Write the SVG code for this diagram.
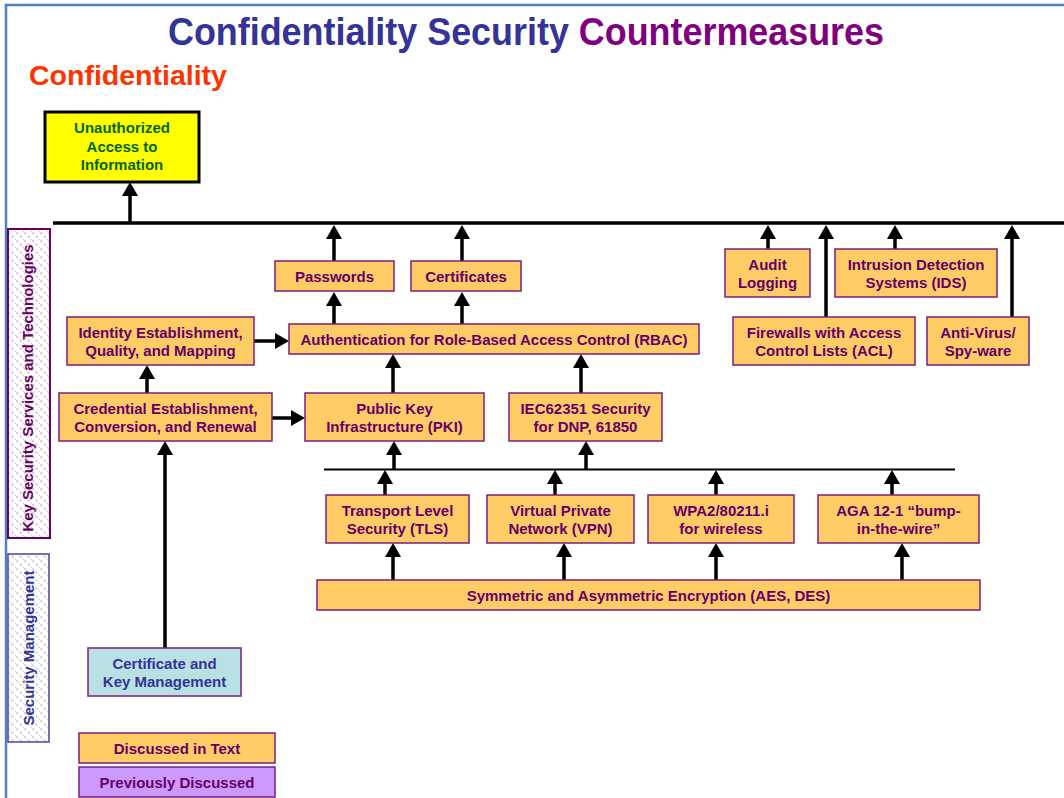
<svg xmlns="http://www.w3.org/2000/svg" width="1064" height="798" viewBox="0 0 1064 798">
  <style>
    text { font-family: "Liberation Sans", Arial, sans-serif; font-weight: bold; }
    .box { fill: #FFCC66; stroke: #7A1F7A; stroke-width: 1.5; }
    .lbl { font-size: 15px; fill: #660066; text-anchor: middle; }
    .conn { stroke: #000; stroke-width: 3.5; fill: none; marker-end: url(#ah); }
    .bus { stroke: #000; fill: none; }
  </style>
  <defs>
    <marker id="ah" viewBox="0 0 14 16" refX="10" refY="8" markerWidth="14" markerHeight="16" markerUnits="userSpaceOnUse" orient="auto">
      <path d="M0,0 L14,8 L0,16 Z" fill="#000"/>
    </marker>
    <pattern id="hatchPurple" width="8" height="8" patternUnits="userSpaceOnUse">
      <rect width="8" height="8" fill="#FFFFFF"/>
      <path d="M0,0 L8,8" stroke="#D9C7D9" stroke-width="1.6" stroke-dasharray="3 2"/>
    </pattern>
    <pattern id="hatchGrey" width="8" height="8" patternUnits="userSpaceOnUse">
      <rect width="8" height="8" fill="#FFFFFF"/>
      <path d="M0,0 L8,8" stroke="#D4D4D8" stroke-width="1.6" stroke-dasharray="3 2"/>
    </pattern>
  </defs>

  <rect width="1064" height="798" fill="#FFFFFF"/>
  <!-- page frame -->
  <path d="M6,798 L6,5 L1064,5" stroke="#4F81BD" stroke-width="2.5" fill="none"/>

  <!-- headings -->
  <text x="168" y="45" font-size="38" textLength="716" lengthAdjust="spacingAndGlyphs"><tspan fill="#333399">Confidentiality Security </tspan><tspan fill="#800080">Countermeasures</tspan></text>
  <text x="29" y="85" font-size="28.5" fill="#FF3300">Confidentiality</text>

  <!-- side bands -->
  <g id="band-key-services">
    <rect x="8" y="229" width="42" height="309" fill="url(#hatchPurple)" stroke="#660066" stroke-width="2"/>
    <text transform="translate(33,388) rotate(-90)" font-size="15" fill="#660066" text-anchor="middle">Key Security Services and Technologies</text>
  </g>
  <g id="band-security-mgmt">
    <rect x="8" y="554" width="41" height="188" fill="url(#hatchGrey)" stroke="#4444AA" stroke-width="1.5"/>
    <text transform="translate(34,648) rotate(-90)" font-size="15" fill="#333399" text-anchor="middle">Security Management</text>
  </g>

  <!-- connectors -->
  <g id="connectors">
    <line class="bus" x1="53" y1="223" x2="1064" y2="223" stroke-width="3.5"/>
    <line class="bus" x1="324" y1="469.5" x2="955" y2="469.5" stroke-width="2.2"/>

    <line class="conn" x1="130" y1="223" x2="130" y2="186"/>
    <line class="conn" x1="334" y1="261" x2="334" y2="229"/>
    <line class="conn" x1="462" y1="261" x2="462" y2="229"/>
    <line class="conn" x1="768" y1="249" x2="768" y2="229"/>
    <line class="conn" x1="826" y1="317" x2="826" y2="229"/>
    <line class="conn" x1="895" y1="249" x2="895" y2="229"/>
    <line class="conn" x1="1012" y1="317" x2="1012" y2="229"/>

    <line class="conn" x1="334" y1="324" x2="334" y2="296"/>
    <line class="conn" x1="462" y1="324" x2="462" y2="296"/>

    <line class="conn" x1="254" y1="341" x2="285" y2="341"/>
    <line class="conn" x1="147" y1="393" x2="147" y2="369"/>
    <line class="conn" x1="272" y1="418" x2="301" y2="418"/>

    <line class="conn" x1="393" y1="393" x2="393" y2="358"/>
    <line class="conn" x1="581" y1="393" x2="581" y2="358"/>

    <line class="conn" x1="394" y1="469" x2="394" y2="445"/>
    <line class="conn" x1="586" y1="469" x2="586" y2="445"/>

    <line class="conn" x1="385" y1="495" x2="385" y2="474"/>
    <line class="conn" x1="555" y1="495" x2="555" y2="474"/>
    <line class="conn" x1="716" y1="495" x2="716" y2="474"/>
    <line class="conn" x1="892" y1="495" x2="892" y2="474"/>

    <line class="conn" x1="393" y1="580" x2="393" y2="547"/>
    <line class="conn" x1="564" y1="580" x2="564" y2="547"/>
    <line class="conn" x1="716" y1="580" x2="716" y2="547"/>
    <line class="conn" x1="902" y1="580" x2="902" y2="547"/>

    <line class="conn" x1="165" y1="648" x2="165" y2="445"/>
  </g>

  <!-- nodes -->
  <g id="unauthorized-access">
    <rect x="45" y="112" width="154" height="70" fill="#FFFF00" stroke="#000" stroke-width="3"/>
    <text x="122" y="133" font-size="15" fill="#006600" text-anchor="middle">Unauthorized</text>
    <text x="122" y="151.5" font-size="15" fill="#006600" text-anchor="middle">Access to</text>
    <text x="122" y="169.5" font-size="15" fill="#006600" text-anchor="middle">Information</text>
  </g>

  <g id="passwords">
    <rect class="box" x="275" y="261" width="119" height="30"/>
    <text class="lbl" x="334.5" y="282">Passwords</text>
  </g>
  <g id="certificates">
    <rect class="box" x="411" y="261" width="110" height="30"/>
    <text class="lbl" x="466" y="282">Certificates</text>
  </g>
  <g id="audit-logging">
    <rect class="box" x="725" y="249" width="85" height="48"/>
    <text class="lbl" x="767.5" y="270">Audit</text>
    <text class="lbl" x="767.5" y="288">Logging</text>
  </g>
  <g id="ids">
    <rect class="box" x="835" y="249" width="162" height="48"/>
    <text class="lbl" x="916" y="270">Intrusion Detection</text>
    <text class="lbl" x="916" y="288">Systems (IDS)</text>
  </g>
  <g id="identity">
    <rect class="box" x="67" y="317" width="187" height="48"/>
    <text class="lbl" x="160.5" y="338">Identity Establishment,</text>
    <text class="lbl" x="160.5" y="356">Quality, and Mapping</text>
  </g>
  <g id="rbac">
    <rect class="box" x="289" y="324" width="410" height="30"/>
    <text class="lbl" x="494" y="345">Authentication for Role-Based Access Control (RBAC)</text>
  </g>
  <g id="firewalls">
    <rect class="box" x="733" y="317" width="182" height="48"/>
    <text class="lbl" x="824" y="338">Firewalls with Access</text>
    <text class="lbl" x="824" y="356">Control Lists (ACL)</text>
  </g>
  <g id="anti-virus">
    <rect class="box" x="927" y="317" width="102" height="48"/>
    <text class="lbl" x="978" y="338">Anti-Virus/</text>
    <text class="lbl" x="978" y="356">Spy-ware</text>
  </g>
  <g id="credential">
    <rect class="box" x="59" y="393" width="213" height="48"/>
    <text class="lbl" x="165.5" y="414">Credential Establishment,</text>
    <text class="lbl" x="165.5" y="432">Conversion, and Renewal</text>
  </g>
  <g id="pki">
    <rect class="box" x="305" y="393" width="179" height="48"/>
    <text class="lbl" x="394.5" y="414">Public Key</text>
    <text class="lbl" x="394.5" y="432">Infrastructure (PKI)</text>
  </g>
  <g id="iec62351">
    <rect class="box" x="509" y="393" width="153" height="48"/>
    <text class="lbl" x="585.5" y="414">IEC62351 Security</text>
    <text class="lbl" x="585.5" y="432">for DNP, 61850</text>
  </g>
  <g id="tls">
    <rect class="box" x="326" y="495" width="143" height="48"/>
    <text class="lbl" x="397.5" y="516">Transport Level</text>
    <text class="lbl" x="397.5" y="534">Security (TLS)</text>
  </g>
  <g id="vpn">
    <rect class="box" x="487" y="495" width="147" height="48"/>
    <text class="lbl" x="560.5" y="516">Virtual Private</text>
    <text class="lbl" x="560.5" y="534">Network (VPN)</text>
  </g>
  <g id="wpa2">
    <rect class="box" x="648" y="495" width="146" height="48"/>
    <text class="lbl" x="721" y="516">WPA2/80211.i</text>
    <text class="lbl" x="721" y="534">for wireless</text>
  </g>
  <g id="aga-12-1">
    <rect class="box" x="818" y="495" width="161" height="48"/>
    <text class="lbl" x="898.5" y="516">AGA 12-1 “bump-</text>
    <text class="lbl" x="898.5" y="534">in-the-wire”</text>
  </g>
  <g id="encryption">
    <rect class="box" x="317" y="580" width="663" height="30"/>
    <text class="lbl" x="648.5" y="601">Symmetric and Asymmetric Encryption (AES, DES)</text>
  </g>
  <g id="key-management">
    <rect x="88" y="648" width="153" height="48" fill="#B9E1E3" stroke="#7A1F7A" stroke-width="1.5"/>
    <text x="164.5" y="669" font-size="15" fill="#333399" text-anchor="middle">Certificate and</text>
    <text x="164.5" y="687" font-size="15" fill="#333399" text-anchor="middle">Key Management</text>
  </g>

  <!-- legend -->
  <g id="legend-discussed">
    <rect class="box" x="79" y="733" width="196" height="30"/>
    <text class="lbl" x="177" y="754">Discussed in Text</text>
  </g>
  <g id="legend-previous">
    <rect x="79" y="767" width="196" height="30" fill="#CC99FF" stroke="#7A1F7A" stroke-width="1.5"/>
    <text class="lbl" x="177" y="788">Previously Discussed</text>
  </g>
</svg>
